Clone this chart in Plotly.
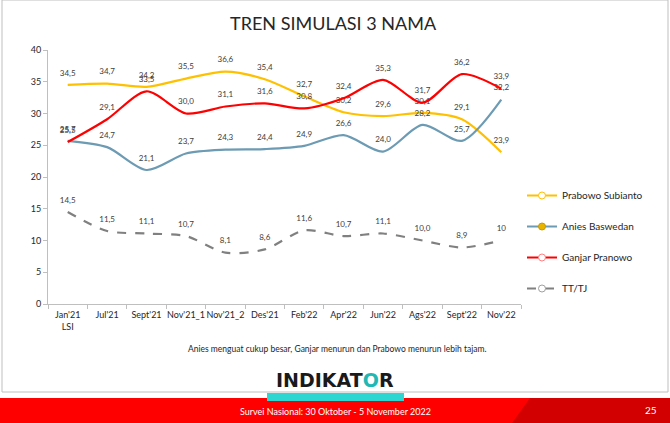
import plotly.graph_objects as go

# data
categories = ["Jan'21<br>LSI", "Jul'21", "Sept'21", "Nov'21_1", "Nov'21_2", "Des'21",
              "Feb'22", "Apr'22", "Jun'22", "Ags'22", "Sept'22", "Nov'22"]
prabowo = [34.5, 34.7, 34.2, 35.5, 36.6, 35.4, 32.7, 30.2, 29.6, 30.1, 29.1, 23.9]
anies = [25.7, 24.7, 21.1, 23.7, 24.3, 24.4, 24.9, 26.6, 24.0, 28.2, 25.7, 32.2]
ganjar = [25.5, 29.1, 33.5, 30.0, 31.1, 31.6, 30.8, 32.4, 35.3, 31.7, 36.2, 33.9]
tttj = [14.5, 11.5, 11.1, 10.7, 8.1, 8.6, 11.6, 10.7, 11.1, 10.0, 8.9, 10.0]
y_ticks = [0, 5, 10, 15, 20, 25, 30, 35, 40]

W, H = 670, 423
L, R, T, B = 48, 521, 50, 304  # plot area in pixels


def px(x):
    return (x - L) / (R - L)


def py(y):
    return (B - y) / (B - T)


def fmt(values):
    return [f"{v:.1f}".replace(".", ",") for v in values]


tt_text = fmt(tttj)
tt_text[-1] = "10"

series = [
    ("Prabowo Subianto", prabowo, fmt(prabowo), "#FFC000", "solid", "white", "#FFC000"),
    ("Anies Baswedan", anies, fmt(anies), "#6C9BB3", "solid", "#E8B400", "#C89A00"),
    ("Ganjar Pranowo", ganjar, fmt(ganjar), "#FF0000", "solid", "white", "#FF8080"),
    ("TT/TJ", tttj, tt_text, "#808080", "dash", "white", "#A0A0A0"),
]

fig = go.Figure()
for i, (name, vals, txt, col, dash, mfill, mline) in enumerate(series):
    fig.add_trace(go.Scatter(
        x=categories, y=vals, text=txt, mode="lines+markers+text",
        textposition="top center",
        textfont=dict(size=8, color="#404040", family="Lato"),
        line=dict(color=col, width=2.2, dash=dash, shape="spline", smoothing=0.8),
        marker=dict(size=10, opacity=0),
        showlegend=False, hoverinfo="skip",
    ))
    # legend entry
    fig.add_trace(go.Scatter(
        x=[None], y=[None], name=name, mode="lines+markers",
        legendgroup=f"g{i}",
        line=dict(color=col, width=2, dash=dash),
        marker=dict(size=7, color=mfill, line=dict(color=mline, width=1)),
    ))

shapes = [
    # slide frame
    dict(type="rect", xref="paper", yref="paper", x0=px(2), x1=px(668), y0=py(392), y1=py(0),
         line=dict(color="#BFBFBF", width=1), fillcolor="rgba(0,0,0,0)", layer="below"),
    # red footer
    dict(type="rect", xref="paper", yref="paper", x0=px(0), x1=px(670), y0=py(423), y1=py(398),
         line=dict(width=0), fillcolor="#FF0000"),
    dict(type="path", xref="paper", yref="paper",
         path=f"M {px(530)},{py(398)} L {px(670)},{py(398)} L {px(670)},{py(423)} L {px(512)},{py(423)} Z",
         line=dict(width=0), fillcolor="#D20000"),
    # teal bar under the logo
    dict(type="rect", xref="paper", yref="paper", x0=px(267), x1=px(404), y0=py(401), y1=py(393),
         line=dict(width=0), fillcolor="#2ED6D2"),
]


def note(text, x, y, size, color, family="Lato"):
    return dict(text=text, x=px(x), y=py(y), xref="paper", yref="paper", showarrow=False,
                xanchor="center", yanchor="middle",
                font=dict(size=size, color=color, family=family))


annotations = [
    note("TREN SIMULASI 3 NAMA", 333, 23, 18, "#262626"),
    note("Anies menguat cukup besar, Ganjar menurun dan Prabowo menurun lebih tajam.",
         337, 349, 8.5, "#262626"),
    note("<b>INDIKAT<span style='color:#1FB8B5'>O</span>R</b>", 335, 380, 19, "#1A1A1A",
         "DejaVu Sans"),
    note("Survei Nasional: 30 Oktober - 5 November 2022", 335, 411, 9, "white"),
    note("25", 651, 410, 10, "white"),
]

fig.update_layout(
    width=W, height=H,
    margin=dict(l=L, r=W - R, t=T, b=H - B, autoexpand=False),
    paper_bgcolor="white", plot_bgcolor="white",
    font=dict(family="Lato", color="#404040"),
    shapes=shapes, annotations=annotations,
    legend=dict(x=px(522), y=py(181), xanchor="left", yanchor="top",
                font=dict(size=10, color="#262626"), tracegroupgap=12,
                bgcolor="rgba(0,0,0,0)"),
    xaxis=dict(range=[-0.5, len(categories) - 0.5], showline=True, linecolor="#BFBFBF",
               ticks="outside", tickson="boundaries", ticklen=4, tickcolor="#BFBFBF",
               showgrid=False, tickangle=0, automargin=False, ticklabelstandoff=2,
               tickfont=dict(size=9, color="#262626"), fixedrange=True),
    yaxis=dict(range=[0, 40], tickvals=y_ticks, showline=True, linecolor="#BFBFBF",
               ticks="outside", ticklen=4, tickcolor="#BFBFBF", showgrid=False,
               zeroline=False, automargin=False,
               tickfont=dict(size=9, color="#262626"), fixedrange=True),
)

fig.write_html("out.html", config={"displayModeBar": False},
               post_script="document.body.style.margin='0';")
